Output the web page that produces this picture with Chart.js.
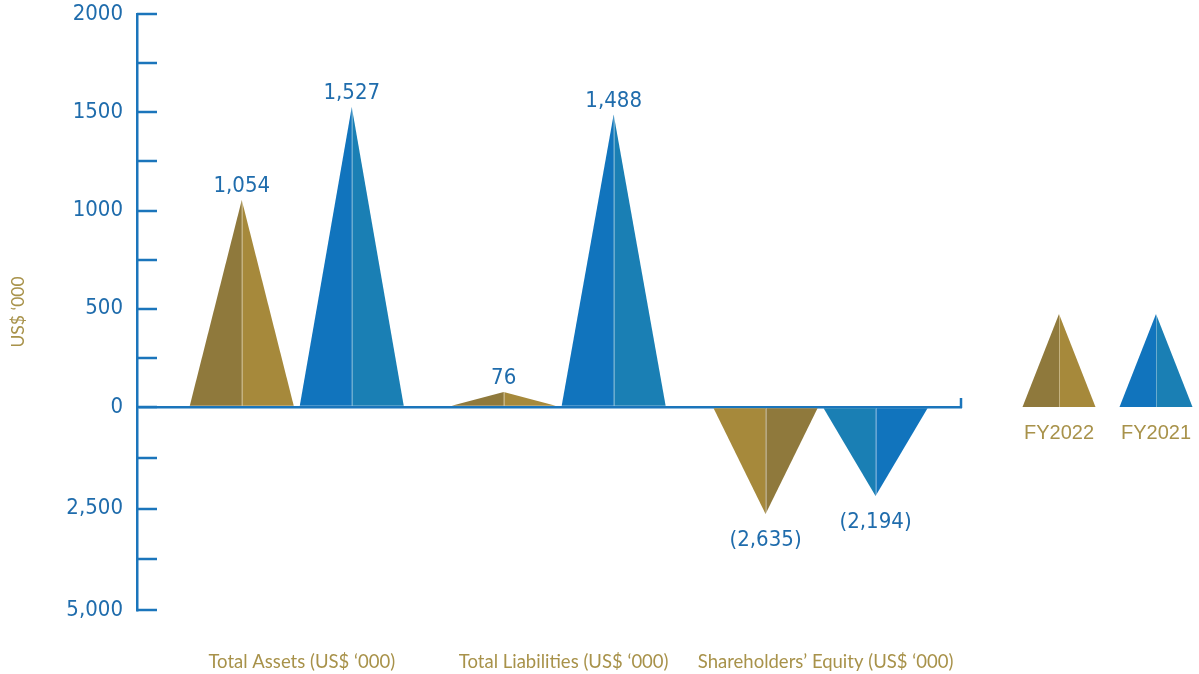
<!DOCTYPE html>
<html lang="en">
<head>
<meta charset="UTF-8">
<title>Financial position FY2022 vs FY2021</title>
<script src="https://cdn.jsdelivr.net/npm/chart.js"></script>
<style>
  html, body { margin: 0; padding: 0; background: #fff; }
  #wrap { width: 1199px; height: 674px; }
</style>
</head>
<body>
<div id="wrap"><canvas id="finChart"></canvas></div>
<script>
// --- data (US$ '000) ---
const categories = ['Total Assets (US$ \u2018000)', 'Total Liabilities (US$ \u2018000)', 'Shareholders\u2019 Equity (US$ \u2018000)'];
const seriesNames = ['FY2022', 'FY2021'];
const fy2022 = [1054, 76, -2635];
const fy2021 = [1527, 1488, -2194];

// y axis: 0..2000 above the line, 0..5,000 squeezed below it
const yTickValues = [-5000, -3750, -2500, -1250, 0, 250, 500, 750, 1000, 1250, 1500, 1750, 2000];
const yTickLabels = [0, 500, 1000, 1500, 2000, -2500, -5000];

const NEG_SQUEEZE = 4.84;
const AXIS_BLUE = '#1B75BB';
const TEXT_BLUE = '#1F6CAC';
const TEXT_GOLD = '#A8924A';
const GOLD = ['#8F793C', '#A6893B'];
const BLUE = ['#1174BD', '#1A7FB4'];
const NUM_FONT = '"DejaVu Sans Condensed", "Noto Sans", sans-serif';
const LABEL_FONT = 'Lato, "Open Sans", sans-serif';

// linear scale with the negative half compressed
class SplitLinearScale extends Chart.LinearScale {
  getPixelForValue(value) {
    const shown = v => (v < 0 ? v / NEG_SQUEEZE : v);
    const lo = shown(this.min);
    const hi = shown(this.max);
    return this.getPixelForDecimal((shown(value) - lo) / (hi - lo));
  }
}
SplitLinearScale.id = 'splitLinear';
SplitLinearScale.defaults = Chart.LinearScale.defaults;
Chart.register(SplitLinearScale);

function fmt(v) {
  return v < 0 ? '(' + (-v).toLocaleString('en-US') + ')' : v.toLocaleString('en-US');
}

function triangle(ctx, x, tip, base, half, leftColor, rightColor) {
  ctx.fillStyle = leftColor;
  ctx.beginPath();
  ctx.moveTo(x - half, base); ctx.lineTo(x, tip); ctx.lineTo(x, base);
  ctx.closePath(); ctx.fill();
  ctx.fillStyle = rightColor;
  ctx.beginPath();
  ctx.moveTo(x, base); ctx.lineTo(x, tip); ctx.lineTo(x + half, base);
  ctx.closePath(); ctx.fill();
  ctx.strokeStyle = 'rgba(255,255,255,0.35)';
  ctx.lineWidth = 1;
  ctx.beginPath();
  ctx.moveTo(Math.round(x) + 0.5, tip); ctx.lineTo(Math.round(x) + 0.5, base);
  ctx.stroke();
}

const peaksPlugin = {
  id: 'peaks',
  afterDatasetsDraw(chart) {
    const ctx = chart.ctx;
    chart.data.datasets.forEach((ds, di) => {
      chart.getDatasetMeta(di).data.forEach((bar, i) => {
        const {x, y, base, width} = bar.getProps(['x', 'y', 'base', 'width'], true);
        const up = y < base;
        ctx.save();
        triangle(ctx, x, y, base, width / 2,
          up ? ds.shades[0] : ds.shades[1],
          up ? ds.shades[1] : ds.shades[0]);
        ctx.fillStyle = TEXT_BLUE;
        ctx.font = '22px ' + NUM_FONT;
        ctx.textAlign = 'center';
        ctx.textBaseline = 'alphabetic';
        ctx.fillText(fmt(ds.data[i]), x, up ? y - 8 : y + 32);
        ctx.restore();
      });
    });
  },
  afterDraw(chart) {
    const ctx = chart.ctx;
    const area = chart.chartArea;
    const yScale = chart.scales.y;
    const zeroY = yScale.getPixelForValue(0);
    ctx.save();
    ctx.strokeStyle = AXIS_BLUE;
    ctx.lineWidth = 2.5;
    // inward tick marks on the y axis
    yScale.ticks.forEach(t => {
      const py = Math.round(yScale.getPixelForValue(t.value));
      ctx.beginPath();
      ctx.moveTo(area.left, py); ctx.lineTo(area.left + 20, py);
      ctx.stroke();
    });
    // small hook at the end of the zero line
    ctx.beginPath();
    ctx.moveTo(area.right - 1, zeroY + 1); ctx.lineTo(area.right - 1, zeroY - 9);
    ctx.stroke();
    // legend
    chart.data.datasets.forEach((ds, i) => {
      const cx = area.right + 97 + i * 97;
      triangle(ctx, cx, zeroY - 93, zeroY, 36.5, ds.shades[0], ds.shades[1]);
      ctx.fillStyle = TEXT_GOLD;
      ctx.font = '20px "Liberation Sans", Arial, sans-serif';
      ctx.textAlign = 'center';
      ctx.textBaseline = 'middle';
      ctx.fillText(ds.label, cx, zeroY + 26);
    });
    ctx.restore();
  }
};

new Chart(document.getElementById('finChart'), {
  type: 'bar',
  data: {
    labels: categories,
    datasets: [
      { label: seriesNames[0], data: fy2022, shades: GOLD, backgroundColor: 'rgba(0,0,0,0)' },
      { label: seriesNames[1], data: fy2021, shades: BLUE, backgroundColor: 'rgba(0,0,0,0)' }
    ]
  },
  options: {
    responsive: true,
    maintainAspectRatio: false,
    animation: false,
    categoryPercentage: 0.84,
    barPercentage: 0.945,
    layout: { padding: { top: 0, right: 237, left: 0, bottom: 0 } },
    plugins: { legend: { display: false }, tooltip: { enabled: false } },
    scales: {
      x: {
        type: 'category',
        afterBuildTicks: scale => {
          // leave a little room before the first group and after the last
          scale._startValue = -0.61;
          scale._valueRange = categories.length - 1 + 0.61 + 0.54;
        },
        afterFit: scale => { scale.height = 64; },
        grid: { display: false, drawTicks: false },
        border: { display: false },
        ticks: {
          color: TEXT_GOLD,
          font: { family: LABEL_FONT, size: 18.5 },
          padding: 41,
          labelOffset: 5,
          maxRotation: 0,
          autoSkip: false
        }
      },
      y: {
        type: 'splitLinear',
        min: -5000,
        max: 2000,
        afterBuildTicks: scale => { scale.ticks = yTickValues.map(v => ({ value: v })); },
        afterFit: scale => {
          scale.width = 137;
          scale.paddingTop = 14;
        },
        grid: {
          drawTicks: false,
          color: c => (c.tick && c.tick.value === 0 ? AXIS_BLUE : 'rgba(0,0,0,0)'),
          lineWidth: 2.5
        },
        border: { display: true, color: AXIS_BLUE, width: 2.5 },
        ticks: {
          stepSize: 250,
          autoSkip: false,
          padding: 14,
          color: TEXT_BLUE,
          font: { family: NUM_FONT, size: 22 },
          callback: v => (yTickLabels.includes(v) ? (v < 0 ? (-v).toLocaleString('en-US') : String(v)) : '')
        },
        title: {
          display: true,
          text: 'US$ \u2018000',
          color: TEXT_GOLD,
          font: { family: LABEL_FONT, size: 17.5 },
          padding: { top: 8, bottom: 0 }
        }
      }
    }
  },
  plugins: [peaksPlugin]
});
</script>
</body>
</html>
